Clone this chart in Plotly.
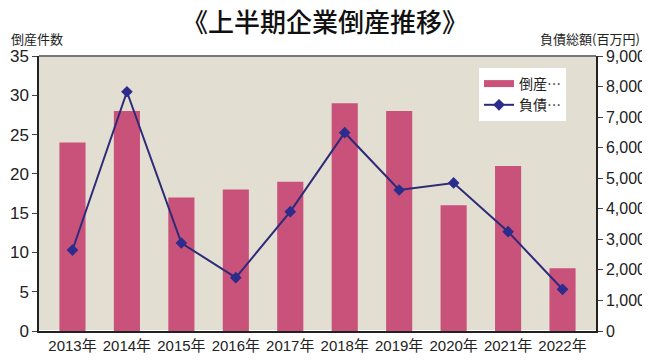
import plotly.graph_objects as go

years = ["2013年", "2014年", "2015年", "2016年", "2017年", "2018年", "2019年", "2020年", "2021年", "2022年"]
counts = [24, 28, 17, 18, 19, 29, 28, 16, 21, 8]
debts = [2650, 7830, 2880, 1745, 3905, 6490, 4615, 4845, 3250, 1365]

font_fam = "Liberation Sans, Noto Sans CJK JP, sans-serif"
bar_color = "#C9527B"

# page has an 8px body margin; the figure is sized/positioned to compensate
OFF = 8
W, H = 650 - OFF, 360 - OFF
l, r, t, b = 39 - OFF, 54, 56 - OFF, 29
pw, ph = W - l - r, H - t - b
def px(xp): return (xp - OFF - l) / pw
def py(yp): return (H - b - (yp - OFF)) / ph

fig = go.Figure()
fig.add_trace(go.Bar(x=years, y=counts, name="倒産…", showlegend=False,
                     marker=dict(color=bar_color, line=dict(width=0)), yaxis="y"))
# legend entry with a wide bar-like swatch
fig.add_trace(go.Scatter(x=[None], y=[None], name="倒産…", mode="lines", yaxis="y",
                         line=dict(color=bar_color, width=7)))
fig.add_trace(go.Scatter(x=years, y=debts, name="負債…", mode="lines+markers", yaxis="y2",
                         line=dict(color="#2F2A78", width=2),
                         marker=dict(symbol="diamond", size=9, color="#2B2C8C")))

fig.update_layout(
    width=W, height=H,
    margin=dict(l=l, r=r, t=t, b=b, autoexpand=False),
    paper_bgcolor="white",
    plot_bgcolor="#E2DFD2",
    font=dict(family=font_fam, color="#222222", size=15),
    bargap=0.52,
    showlegend=True,
    legend=dict(x=px(479), y=py(68), xanchor="left", yanchor="top", bgcolor="white",
                font=dict(size=14, family="Noto Sans CJK JP"), tracegroupgap=0,
                itemwidth=30),
    xaxis=dict(showgrid=False, ticks="", showline=True, linecolor="#222", linewidth=1.5,
               tickfont=dict(size=15), automargin=False),
    yaxis=dict(range=[0, 35], dtick=5, showgrid=False, ticks="outside", ticklen=5,
               showline=True, linecolor="#222", linewidth=1.5, tickfont=dict(size=17),
               automargin=False),
    yaxis2=dict(range=[0, 9000], dtick=1000, overlaying="y", side="right", showgrid=False,
                ticks="outside", ticklen=5, showline=True, linecolor="#222", linewidth=1.5,
                tickformat=",d", tickfont=dict(size=16), automargin=False),
    shapes=[dict(type="line", xref="paper", yref="paper", x0=0, x1=1, y0=1, y1=1,
                 line=dict(color="#777", width=2))],
)
fig.add_annotation(text="《上半期企業倒産推移》", x=px(325), y=py(20), xref="paper", yref="paper",
                   xanchor="center", yanchor="middle", showarrow=False,
                   font=dict(size=26, family="Noto Sans CJK JP", color="#111", weight=500))
fig.add_annotation(text="倒産件数", x=px(9), y=py(38), xref="paper", yref="paper",
                   xanchor="left", yanchor="middle", showarrow=False,
                   font=dict(size=13, family="Noto Sans CJK JP", color="#222"))
fig.add_annotation(text="負債総額(百万円)", x=px(642), y=py(38), xref="paper", yref="paper",
                   xanchor="right", yanchor="middle", showarrow=False,
                   font=dict(size=13, family="Noto Sans CJK JP", color="#222"))

fig.write_html("out.html")
